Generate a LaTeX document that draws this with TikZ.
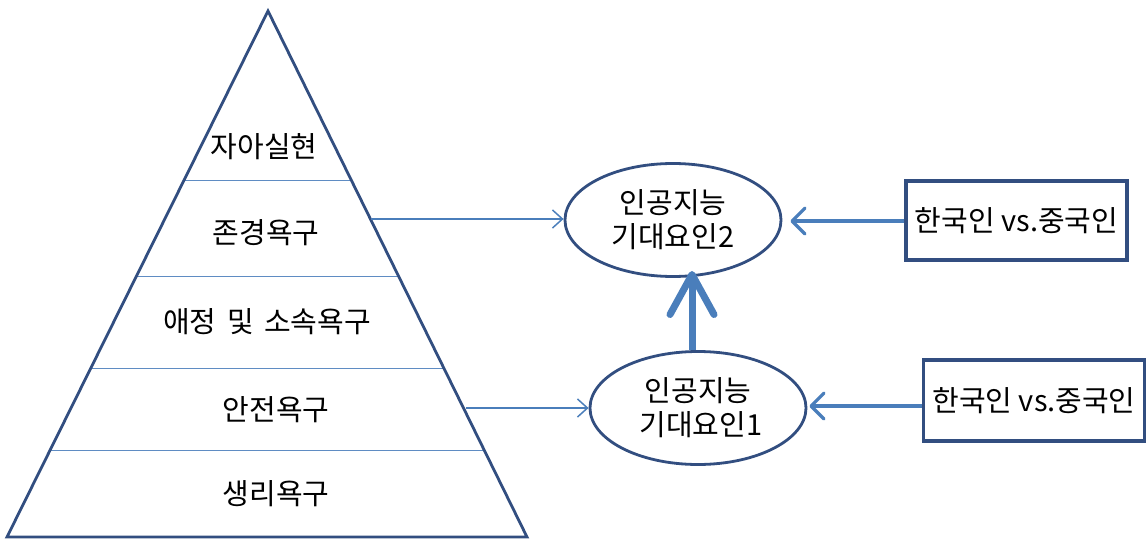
\documentclass[tikz,border=0pt]{standalone}
\usepackage{fontspec}
\setmainfont{Noto Sans CJK KR}
\usetikzlibrary{arrows.meta,calc,shapes.geometric}
\definecolor{outl}{RGB}{50,78,128}
\definecolor{arr}{RGB}{74,126,187}
\definecolor{sep}{RGB}{95,140,195}
\tikzset{
  x=1pt, y=-1pt,
  lbl/.style={font=\fontsize{29}{34}\selectfont, text=black, inner sep=0pt, align=center},
  ell/.style={ellipse, draw=outl, line width=2.8pt, minimum width=216pt, minimum height=113pt, inner sep=0pt, lbl},
  grp/.style={rectangle, draw=outl, line width=3.2pt, inner sep=0pt, lbl},
  thinarrow/.style={draw=arr, line width=1.5pt, -{Straight Barb[length=10pt,width=18pt,line width=1.5pt]}},
  medarrow/.style={draw=arr, line width=3.2pt, -{Straight Barb[length=13pt,width=26pt,line width=3.2pt,round]}},
  bigarrow/.style={draw=arr, line width=7pt, -{Straight Barb[length=40pt,width=44pt,line width=7pt,round]}},
  layer/.style={draw=sep, line width=1pt}
}
\begin{document}
\begin{tikzpicture}
\useasboundingbox (0,0) rectangle (1147,540);
% pyramid
\coordinate (apex) at (268,11);
\coordinate (bl) at (7,537);
\coordinate (br) at (527,537);
\draw[layer] (184.1,180) -- (351.2,180);
\draw[layer] (136.5,276) -- (398.5,276);
\draw[layer] (90.9,368) -- (443.8,368);
\draw[layer] (50.2,450) -- (484.2,450);
\draw[outl, line width=2.8pt, line join=miter] (apex) -- (br) -- (bl) -- cycle;
\node[lbl] (l1) at (264,147) {자아실현};
\node[lbl] (l2) at (266,233) {존경욕구};
\node[lbl] (l3) at (267,322) {애정\hspace{5pt} 및\hspace{3pt} 소속욕구};
\node[lbl] (l4) at (276,410) {안전욕구};
\node[lbl] (l5) at (276,494) {생리욕구};
% ellipses
\node[ell] (e2) at (673,220) {인공지능\\기대요인2};
\node[ell] (e1) at (698,408) {인공지능\\\hspace{6pt}기대요인1};
% boxes
\node[grp, minimum width=221pt, minimum height=79pt] (b2) at (1016.5,220.5) {한국인 vs.중국인};
\node[grp, minimum width=221pt, minimum height=81pt] (b1) at (1034,400.5) {한국인 vs.중국인};
% connectors
\coordinate (s2) at (371,219);
\coordinate (s1) at (466,408);
\draw[thinarrow] (s2) -- (e2.west |- s2);
\draw[thinarrow] (s1) -- (e1.west |- s1);
\draw[medarrow, shorten >=8pt] (b2.west |- 0,221) -- (e2.east |- 0,221);
\draw[medarrow, shorten >=2pt] (b1.west |- 0,406) -- (e1.east |- 0,406);
\draw[bigarrow] (e1.north -| 692,0) -- (692,271);
\end{tikzpicture}
\end{document}
